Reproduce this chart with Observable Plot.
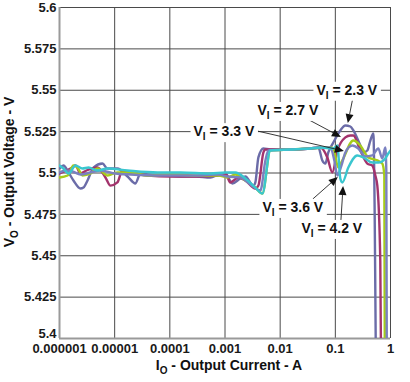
<!DOCTYPE html>
<html><head><meta charset="utf-8">
<script src="https://cdn.jsdelivr.net/npm/d3@7"></script>
<script src="https://cdn.jsdelivr.net/npm/@observablehq/plot@0.6"></script>
<style>body{margin:0;background:#fff}</style>
</head><body><div id="chart"></div>
<script>
const xTicks = [1e-6, 1e-5, 1e-4, 1e-3, 1e-2, 1e-1, 1];
const xTickLabels = ["0.000001", "0.00001", "0.0001", "0.001", "0.01", "0.1", "1"];
const yTicks = [5.4, 5.425, 5.45, 5.475, 5.5, 5.525, 5.55, 5.575, 5.6];
const yTickLabels = ["5.4", "5.425", "5.45", "5.475", "5.5", "5.525", "5.55", "5.575", "5.6"];

const seriesNames = ["2.3 V", "2.7 V", "3.3 V", "3.6 V", "4.2 V"];
const seriesColors = ["#6b6ca8", "#a3336c", "#a6cc1a", "#7a80c0", "#3ac6cf"];

// [output current A, output voltage V]
const vi23 = [[1e-6,5.5027],[1.18e-6,5.5045],[1.46e-6,5.5003],[1.79e-6,5.4955],[2.40e-6,5.4906],[2.72e-6,5.4912],[3.22e-6,5.4955],[4.13e-6,5.5033],[6.01e-6,5.5057],[7.41e-6,5.5027],[1.12e-5,5.5027],[1.71e-5,5.4979],[2.38e-5,5.4937],[2.93e-5,5.4997],[3.93e-5,5.4991],[7.66e-5,5.4985],[1.56e-4,5.4979],[2.91e-4,5.4979],[5.44e-4,5.4973],[7.59e-4,5.4991],[1.02e-3,5.4997],[1.36e-3,5.4937],[1.90e-3,5.4967],[2.34e-3,5.4979],[3.27e-3,5.4924],[3.55e-3,5.4943],[4.03e-3,5.5094],[4.97e-3,5.5148],[6.64e-3,5.5142],[1.53e-2,5.5142],[3.52e-2,5.5148],[4.92e-2,5.5154],[5.81e-2,5.5076],[6.59e-2,5.5057],[7.46e-2,5.5124],[9.20e-2,5.5184],[0.123,5.5257],[0.152,5.5287],[0.187,5.5281],[0.212,5.5257],[0.284,5.5166],[0.321,5.5124],[0.380,5.5136],[0.431,5.5196],[0.488,5.5239],[0.542,5.39]];
const vi27 = [[1e-6,5.4997],[1.34e-6,5.5015],[1.72e-6,5.5033],[1.95e-6,5.5045],[2.40e-6,5.4997],[3.08e-6,5.5015],[4.88e-6,5.5033],[6.81e-6,5.4973],[8.40e-6,5.4924],[1.12e-5,5.4943],[1.38e-5,5.5015],[1.93e-5,5.5003],[3.93e-5,5.4985],[1.03e-4,5.4979],[2.91e-4,5.4979],[7.59e-4,5.4985],[1.02e-3,5.4997],[1.25e-3,5.4943],[1.75e-3,5.4973],[2.34e-3,5.4955],[3.55e-3,5.4906],[4.03e-3,5.4924],[4.97e-3,5.5124],[5.40e-3,5.5142],[1.53e-2,5.5142],[3.52e-2,5.5148],[5.35e-2,5.5154],[7.16e-2,5.5094],[8.82e-2,5.5003],[0.109,5.5136],[0.152,5.5215],[0.187,5.5227],[0.212,5.5227],[0.284,5.5136],[0.380,5.5057],[0.468,5.5045],[0.531,5.4985],[0.577,5.4924],[0.653,5.4471],[0.673,5.39]];
const vi33 = [[1e-6,5.4973],[1.40e-6,5.4985],[1.79e-6,5.5045],[2.12e-6,5.5033],[2.61e-6,5.4985],[3.65e-6,5.4997],[4.88e-6,5.5027],[7.41e-6,5.4985],[1.12e-5,5.5003],[1.93e-5,5.5003],[3.93e-5,5.4985],[1.03e-4,5.4991],[2.91e-4,5.4985],[7.59e-4,5.4985],[1.10e-3,5.4973],[1.54e-3,5.4991],[2.34e-3,5.4955],[3.55e-3,5.4912],[4.76e-3,5.4876],[6.64e-3,5.5136],[1.53e-2,5.5142],[3.52e-2,5.5148],[8.11e-2,5.5154],[9.20e-2,5.5148],[0.113,5.5033],[0.134,5.5076],[0.212,5.5196],[0.284,5.5166],[0.396,5.5094],[0.577,5.5076],[0.710,5.5057],[0.773,5.4985],[0.789,5.39]];
const vi36 = [[1e-6,5.5003],[1.28e-6,5.5015],[1.72e-6,5.5009],[2.40e-6,5.4991],[3.65e-6,5.5003],[5.53e-6,5.5015],[1.03e-5,5.4997],[1.93e-5,5.4991],[6.76e-5,5.4985],[2.91e-4,5.4985],[7.59e-4,5.4991],[1.10e-3,5.4979],[1.90e-3,5.4973],[2.88e-3,5.4931],[4.38e-3,5.4894],[5.40e-3,5.5076],[6.11e-3,5.5136],[1.53e-2,5.5142],[3.52e-2,5.5148],[8.11e-2,5.5154],[0.096,5.5076],[0.109,5.4985],[0.129,5.5045],[0.152,5.5124],[0.203,5.5166],[0.261,5.5148],[0.349,5.5100],[0.468,5.5106],[0.601,5.5148],[0.710,5.5088],[0.805,5.5154],[0.840,5.5015],[0.857,5.39]];
const vi42 = [[1e-6,5.5045],[1.18e-6,5.5027],[1.46e-6,5.4997],[1.95e-6,5.5045],[2.61e-6,5.5027],[3.35e-6,5.5033],[4.88e-6,5.5015],[7.41e-6,5.5027],[1.71e-5,5.5015],[5.96e-5,5.5003],[1.56e-4,5.5003],[5.44e-4,5.4997],[1.02e-3,5.5003],[1.54e-3,5.5003],[2.34e-3,5.4967],[3.55e-3,5.4912],[4.76e-3,5.4876],[6.64e-3,5.5136],[1.53e-2,5.5142],[3.52e-2,5.5148],[5.35e-2,5.5154],[9.20e-2,5.5148],[0.109,5.5166],[0.123,5.4967],[0.134,5.4943],[0.172,5.5033],[0.250,5.5106],[0.321,5.5094],[0.468,5.5063],[0.601,5.5063],[0.805,5.5088],[0.912,5.5118],[1.0,5.5136]];
const seriesData = [vi23, vi27, vi33, vi36, vi42];

// annotations: label text, label centre [A, V], arrow start, arrow tip
const labelValues = ["2.3 V", "2.7 V", "3.3 V", "3.6 V", "4.2 V"];
const labelPos = [[0.165, 5.55], [0.0141, 5.5378], [9.76e-4, 5.525], [0.0173, 5.4792], [0.0882, 5.4665]];
const arrowStart = [[0.212, 5.545], [0.0252, 5.5341], [4.03e-3, 5.525], [0.0399, 5.484], [0.129, 5.4713]];
const arrowTip = [[0.172, 5.5299], [0.129, 5.5215], [0.146, 5.513], [0.113, 5.4973], [0.141, 5.4918]];

const font = "'Liberation Sans', Arial, sans-serif";
const yFmt = d => yTickLabels[yTicks.indexOf(d)];

const chart = Plot.plot({
  width: 410, height: 382,
  marginLeft: 59, marginRight: 20, marginTop: 7, marginBottom: 44,
  style: {fontFamily: font, fontSize: "13px", fontWeight: "bold", color: "#1a1a1a", background: "#fff"},
  x: {type: "log", domain: [1e-6, 1]},
  y: {domain: [5.4, 5.6]},
  marks: [
    Plot.gridX(xTicks, {stroke: "#4a4a4a", strokeOpacity: 1, strokeWidth: 1}),
    Plot.gridY(yTicks, {stroke: "#4a4a4a", strokeOpacity: 1, strokeWidth: 1}),
    Plot.axisX(xTicks, {tickSize: 0, tickPadding: 5, tickFormat: d => xTickLabels[xTicks.indexOf(d)], label: null}),
    Plot.axisY(yTicks.slice(1), {tickSize: 0, tickPadding: 3, tickFormat: yFmt, label: null}),
    Plot.axisY(yTicks.slice(0, 1), {tickSize: 0, tickPadding: 3, tickFormat: yFmt, label: null, dy: -5}),
    Plot.ruleX([1e-6], {stroke: "#9a9a9a", strokeWidth: 2}),
    Plot.ruleY([5.4], {stroke: "#9a9a9a", strokeWidth: 2}),
    ...seriesData.map((s, i) => Plot.line(s, {x: d => d[0], y: d => d[1], stroke: seriesColors[i], strokeWidth: 2.4, curve: "monotone-x", clip: true}))
  ]
});
document.getElementById("chart").appendChild(chart);

const sx = chart.scale("x"), sy = chart.scale("y");
const svg = d3.select(chart);

// arrows
const ag = svg.append("g");
labelValues.forEach((_, i) => {
  const x1 = sx.apply(arrowStart[i][0]), y1 = sy.apply(arrowStart[i][1]);
  const x2 = sx.apply(arrowTip[i][0]), y2 = sy.apply(arrowTip[i][1]);
  const dx = x2 - x1, dy = y2 - y1, len = Math.hypot(dx, dy);
  const ux = dx / len, uy = dy / len, nx = -uy, ny = ux;
  const hl = 9, hw = 4;
  const bx = x2 - ux * hl, by = y2 - uy * hl;
  ag.append("line").attr("x1", x1).attr("y1", y1).attr("x2", bx).attr("y2", by)
    .attr("stroke", "#222").attr("stroke-width", 0.9);
  ag.append("polygon").attr("points", `${x2},${y2} ${bx + nx * hw},${by + ny * hw} ${bx - nx * hw},${by - ny * hw}`)
    .attr("fill", "#111");
});

// labels
const lg = svg.append("g").attr("font-family", font).attr("font-weight", "bold").attr("font-size", 14).attr("fill", "#111");
labelValues.forEach((v, i) => {
  const cx = sx.apply(labelPos[i][0]), cy = sy.apply(labelPos[i][1]);
  const grp = lg.append("g");
  const rect = grp.append("rect").attr("fill", "#fff");
  const t = grp.append("text").attr("x", cx).attr("y", cy + 5).attr("text-anchor", "middle");
  t.append("tspan").text("V");
  t.append("tspan").attr("font-size", 10).attr("dy", 4).text("I");
  t.append("tspan").attr("dy", -4).text(" = " + v);
  const bb = t.node().getBBox();
  rect.attr("x", bb.x - 3).attr("y", bb.y).attr("width", bb.width + 6).attr("height", bb.height);
});

// axis titles
const tg = svg.append("g").attr("font-family", font).attr("font-weight", "bold").attr("font-size", 14).attr("fill", "#111");
const yt = tg.append("text").attr("transform", "translate(14,172) rotate(-90)").attr("text-anchor", "middle");
yt.append("tspan").text("V");
yt.append("tspan").attr("font-size", 10).attr("dy", 4).text("O");
yt.append("tspan").attr("dy", -4).text(" - Output Voltage - V");
const xt = tg.append("text").attr("x", 229).attr("y", 370).attr("text-anchor", "middle");
xt.append("tspan").text("I");
xt.append("tspan").attr("font-size", 10).attr("dy", 4).text("O");
xt.append("tspan").attr("dy", -4).text(" - Output Current - A");
</script>
</body></html>
